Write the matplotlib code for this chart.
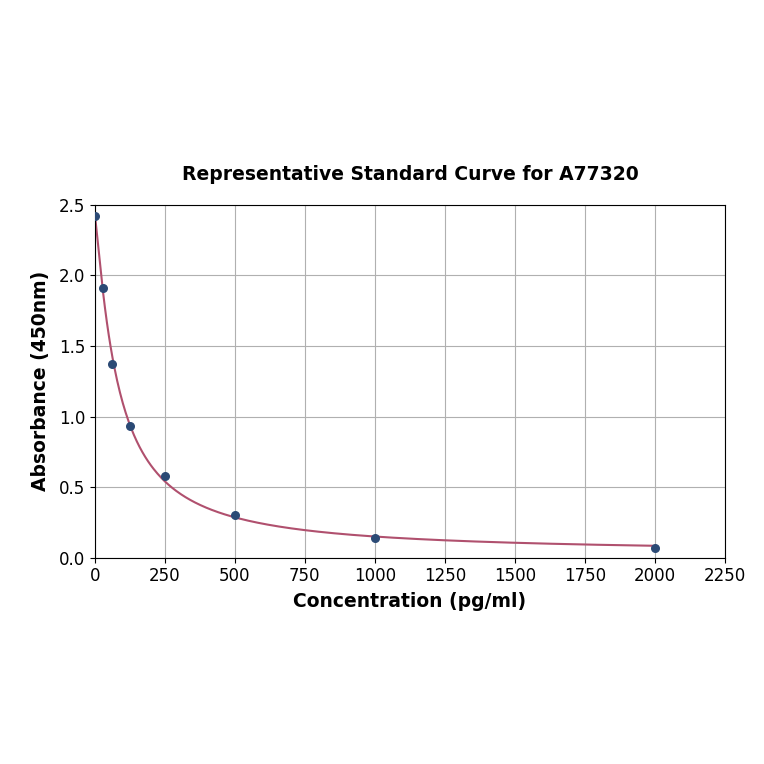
import numpy as np
import matplotlib
matplotlib.use("Agg")
import matplotlib.pyplot as plt

conc = [0, 31.25, 62.5, 125, 250, 500, 1000, 2000]
absorb = [2.42, 1.91, 1.37, 0.93, 0.58, 0.30, 0.14, 0.07]

title = "Representative Standard Curve for A77320"
xlabel = "Concentration (pg/ml)"
ylabel = "Absorbance (450nm)"

x = np.array(conc, float)
y = np.array(absorb, float)


def f4(p, xx):
    a, b, c, d = p
    return d + (a - d) / (1.0 + (np.abs(xx) / c) ** b)


# Levenberg-Marquardt 4PL fit
p = np.array([2.45, 1.0, 150.0, 0.0])
lam = 1e-2
for _ in range(500):
    r = y - f4(p, x)
    J = np.zeros((len(x), 4))
    for k in range(4):
        dp = np.zeros(4)
        h = 1e-6 * max(abs(p[k]), 1e-3)
        dp[k] = h
        J[:, k] = (f4(p + dp, x) - f4(p - dp, x)) / (2 * h)
    A = J.T @ J
    g = J.T @ r
    step = np.linalg.solve(A + lam * np.diag(np.diag(A) + 1e-12), g)
    pn = p + step
    if pn[2] > 0 and pn[1] > 0 and np.sum((y - f4(pn, x)) ** 2) < np.sum(r ** 2):
        p = pn
        lam *= 0.5
    else:
        lam *= 4

xs = np.linspace(0, 2000, 600)
ys = f4(p, xs)

fig = plt.figure(figsize=(7.64, 7.64), dpi=100)
ax = fig.add_axes([0.124, 0.270, 0.825, 0.462])
ax.plot(xs, ys, color="#b0506e", lw=1.5, zorder=2)
ax.scatter(x, y, color="#2b4a75", s=30, zorder=3)
ax.set_xlim(0, 2250)
ax.set_ylim(0, 2.5)
ax.set_xticks(np.arange(0, 2251, 250))
ax.set_yticks(np.arange(0, 2.51, 0.5))
ax.grid(True, color="#b0b0b0", lw=0.8)
ax.set_axisbelow(True)
ax.tick_params(labelsize=12)
ax.set_title(title, fontsize=13.5, fontweight="bold", pad=18)
ax.set_xlabel(xlabel, fontsize=13.5, fontweight="bold", labelpad=5)
ax.set_ylabel(ylabel, fontsize=13.5, fontweight="bold", labelpad=6)
fig.savefig("out.png", dpi=100)
